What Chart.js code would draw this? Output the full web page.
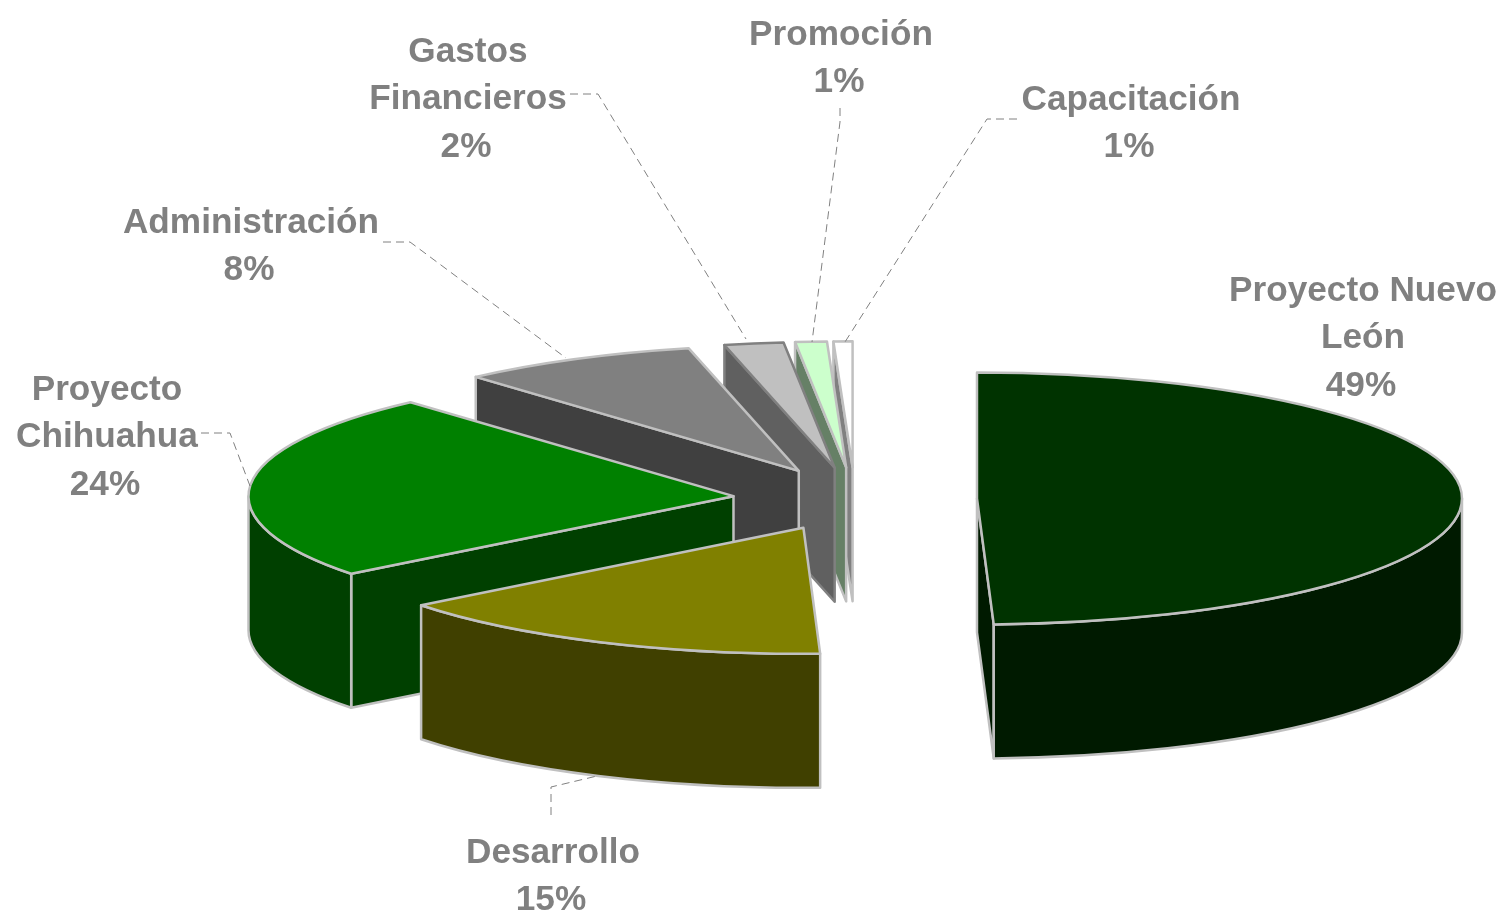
<!DOCTYPE html>
<html lang="es">
<head>
<meta charset="utf-8">
<title>Distribución del gasto</title>
<style>html,body{margin:0;padding:0;background:#fff}canvas{display:block}</style>
<script src="https://cdn.jsdelivr.net/npm/chart.js@4"></script>
</head>
<body>
<canvas id="c" width="1504" height="914"></canvas>
<script>
// Data
const categories = ['Proyecto Nuevo León','Desarrollo','Proyecto Chihuahua','Administración','Gastos Financieros','Promoción','Capacitación'];
const shares = [49.45, 15, 23.95, 7.95, 1.97, 1.05, 0.63];

// Styles
const topColors  = ['#003300','#808000','#008000','#808080','#C0C0C0','#CCFFCC','#FFFFFF'];
const wallColors = ['#001A00','#404000','#004000','#404040','#606060','#668066','#808080'];
const edgeColors = ['#C0C0C0','#C0C0C0','#C0C0C0','#C0C0C0','#808080','#C0C0C0','#C0C0C0'];

// Label layout: text lines, centre x, first baseline
const labelLines = [['Proyecto Nuevo','León'],['Desarrollo'],['Proyecto','Chihuahua'],['Administración'],['Gastos','Financieros'],['Promoción'],['Capacitación']];
const labelX = [1363, 553, 107, 251, 468, 841, 1131];
const labelY = [300.5, 862.5, 399.5, 232.5, 61.5, 44.5, 109.5];
const leaders = [
  null,
  [[551,815],[551,787],[597,776]],
  [[201,433],[230,433],[250,486]],
  [[383,242],[410,242],[566,358]],
  [[570,94],[598,94],[746,339]],
  [[840,108],[840,122],[812,342]],
  [[1017,119],[987,119],[845,342]]
];

// 3D projection
const SQUASH = 126 / 485, DEPTH = 134, EXPLODE = 122, EDGE = 2.5;
const paintOrder = [6, 5, 4, 3, 2, 1, 0]; // back to front

const pie3d = {
  id: 'pie3d',
  beforeDatasetDraw(chart) {
    const ctx = chart.ctx, arcs = chart.getDatasetMeta(0).data;
    paintOrder.forEach(i => {
      const a = arcs[i], R = a.outerRadius, s = a.startAngle, e = a.endAngle, m = (s + e) / 2;
      const ox = a.x + EXPLODE * Math.cos(m), oy = a.y + SQUASH * EXPLODE * Math.sin(m);
      const rim = t => [ox + R * Math.cos(t), oy + SQUASH * R * Math.sin(t)];
      ctx.save();
      ctx.lineWidth = EDGE; ctx.lineJoin = 'round';
      ctx.strokeStyle = edgeColors[i]; ctx.fillStyle = wallColors[i];
      const quad = t => {
        const p = rim(t);
        ctx.beginPath(); ctx.moveTo(ox, oy); ctx.lineTo(p[0], p[1]);
        ctx.lineTo(p[0], p[1] + DEPTH); ctx.lineTo(ox, oy + DEPTH); ctx.closePath();
        ctx.fill(); ctx.stroke();
      };
      // radial walls that face the viewer
      if (Math.cos(s) < -1e-9) quad(s);
      if (Math.cos(e) > 1e-9) quad(e);
      // outer wall on the front half
      const lo = Math.max(s, 0), hi = Math.min(e, Math.PI);
      if (hi > lo) {
        ctx.beginPath();
        ctx.ellipse(ox, oy, R, SQUASH * R, 0, lo, hi, false);
        ctx.ellipse(ox, oy + DEPTH, R, SQUASH * R, 0, hi, lo, true);
        ctx.closePath(); ctx.fill(); ctx.stroke();
      }
      // top face: the library's own arc, squashed and moved out
      ctx.save();
      ctx.translate(ox, oy); ctx.scale(1, SQUASH); ctx.translate(-a.x, -a.y);
      a.draw(ctx, chart.chartArea);
      ctx.restore();
      ctx.beginPath();
      ctx.ellipse(ox, oy, R, SQUASH * R, 0, s, e, false);
      ctx.lineTo(ox, oy); ctx.closePath(); ctx.stroke();
      ctx.restore();
    });
    return false;
  },
  afterDatasetsDraw(chart) {
    const ctx = chart.ctx;
    ctx.save();
    ctx.strokeStyle = '#808080'; ctx.lineWidth = 1; ctx.setLineDash([8, 5]);
    leaders.forEach(path => {
      if (!path) return;
      ctx.beginPath();
      path.forEach((p, j) => j ? ctx.lineTo(p[0], p[1]) : ctx.moveTo(p[0], p[1]));
      ctx.stroke();
    });
    ctx.setLineDash([]);
    ctx.fillStyle = '#808080';
    ctx.font = 'bold 35.2px "Liberation Sans", Arial, sans-serif';
    ctx.textAlign = 'center'; ctx.textBaseline = 'alphabetic';
    labelLines.forEach((lines, i) => {
      let y = labelY[i];
      lines.forEach(t => { ctx.fillText(t, labelX[i], y); y += 47.7; });
      ctx.fillText(Math.round(shares[i]) + '%', labelX[i] - 2, y);
    });
    ctx.restore();
  }
};

new Chart(document.getElementById('c'), {
  type: 'pie',
  data: {
    labels: categories,
    datasets: [{ data: shares, backgroundColor: topColors, borderWidth: 0, hoverOffset: 0 }]
  },
  options: {
    responsive: false,
    animation: false,
    radius: 485,
    layout: { padding: { left: 206, top: 84 } },
    plugins: { legend: { display: false }, title: { display: false }, tooltip: { enabled: false } }
  },
  plugins: [pie3d]
});
</script>
</body>
</html>
